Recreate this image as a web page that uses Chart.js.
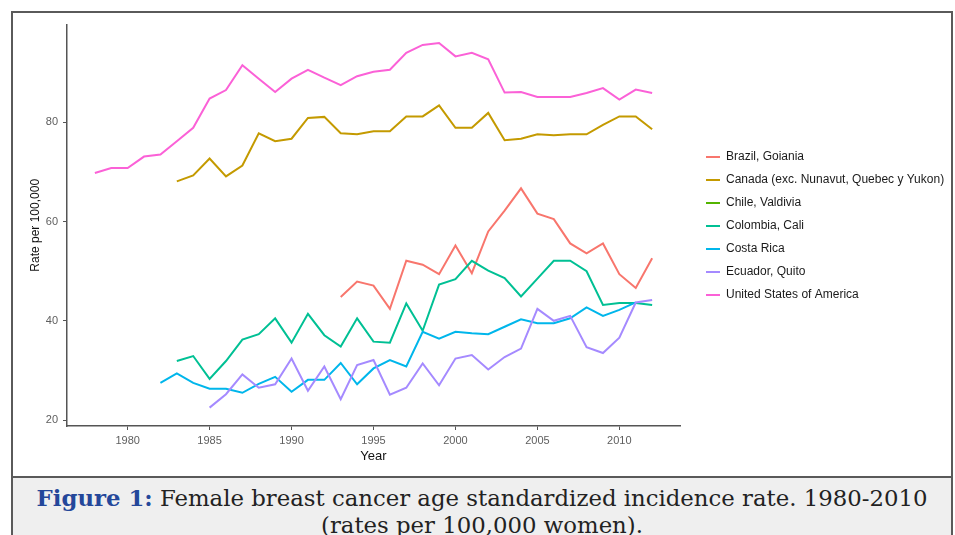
<!DOCTYPE html>
<html>
<head>
<meta charset="utf-8">
<script src="https://cdn.jsdelivr.net/npm/chart.js@4.4.0/dist/chart.umd.min.js"></script>
<style>
    html, body { margin: 0; padding: 0; background: #fff; }
    body { width: 955px; height: 535px; position: relative; overflow: hidden; }
    .frame { position: absolute; left: 11px; top: 11px; width: 938px; height: 530px;
             border: 2px solid #5a5a5a; border-bottom: none; }
    .plot { position: absolute; left: 0; top: 0; width: 938px; height: 463px; }
    .caption { position: absolute; left: 0; top: 463px; width: 938px; height: 70px;
               border-top: 2px solid #5a5a5a; background: #efefef; text-align: center;
               font-family: "DejaVu Serif", serif; font-size: 22.8px; line-height: 27px;
               color: #222; padding-top: 7px; white-space: nowrap; }
    .caption b { color: #24479a; }
</style>
</head>
<body>
<div class="frame">
    <div class="plot"><canvas id="rateChart" width="938" height="463"></canvas></div>
    <div class="caption"><b>Figure 1:</b> Female breast cancer age standardized incidence rate. 1980-2010<br>(rates per 100,000 women).</div>
</div>
<script>
// years 1978 .. 2012, null = no registry data that year
const years = [1978, 1979, 1980, 1981, 1982, 1983, 1984, 1985, 1986, 1987,
               1988, 1989, 1990, 1991, 1992, 1993, 1994, 1995, 1996, 1997,
               1998, 1999, 2000, 2001, 2002, 2003, 2004, 2005, 2006, 2007,
               2008, 2009, 2010, 2011, 2012];

const brazil = [null, null, null, null, null, null, null, null, null, null,
                null, null, null, null, null, 44.8, 47.9, 47.1, 42.4, 52.1,
                51.3, 49.4, 55.2, 49.6, 58.0, 62.2, 66.7, 61.6, 60.5, 55.6,
                53.6, 55.6, 49.4, 46.6, 52.6];
const canada = [null, null, null, null, null, 68.1, 69.3, 72.7, 69.1, 71.3,
                77.8, 76.2, 76.7, 80.9, 81.1, 77.8, 77.6, 78.2, 78.2, 81.2,
                81.2, 83.4, 78.9, 78.9, 81.9, 76.4, 76.7, 77.6, 77.4, 77.6,
                77.6, 79.5, 81.2, 81.2, 78.6];
const chile = years.map(() => null);
const colombia = [null, null, null, null, null, 31.9, 32.9, 28.3, 31.9, 36.2,
                  37.3, 40.5, 35.6, 41.4, 37.1, 34.8, 40.5, 35.8, 35.6, 43.5,
                  38.0, 47.3, 48.4, 52.1, 50.1, 48.6, 44.9, 48.5, 52.1, 52.1,
                  50.0, 43.2, 43.6, 43.6, 43.2];
const costaRica = [null, null, null, null, 27.5, 29.4, 27.5, 26.3, 26.3, 25.5,
                   27.3, 28.7, 25.7, 28.1, 28.1, 31.5, 27.2, 30.4, 32.1, 30.8,
                   37.8, 36.4, 37.8, 37.5, 37.3, 38.8, 40.3, 39.5, 39.5, 40.5,
                   42.7, 41.0, 42.2, 43.7, null];
const ecuador = [null, null, null, null, null, null, null, 22.5, 25.2, 29.2,
                 26.5, 27.2, 32.4, 25.9, 30.8, 24.2, 31.1, 32.1, 25.1, 26.5,
                 31.4, 27.0, 32.4, 33.1, 30.2, 32.7, 34.4, 42.4, 40.0, 41.0,
                 34.7, 33.5, 36.6, 43.7, 44.2];
const usa = [69.8, 70.8, 70.8, 73.1, 73.5, 76.2, 78.9, 84.8, 86.5, 91.5,
             88.8, 86.1, 88.8, 90.6, 89.0, 87.5, 89.3, 90.2, 90.6, 94.0,
             95.6, 96.0, 93.3, 94.0, 92.7, 86.0, 86.1, 85.1, 85.1, 85.1,
             85.9, 86.9, 84.6, 86.6, 85.9];

const seriesNames = ['Brazil, Goiania', 'Canada (exc. Nunavut, Quebec y Yukon)', 'Chile, Valdivia',
                     'Colombia, Cali', 'Costa Rica', 'Ecuador, Quito', 'United States of America'];
const seriesValues = [brazil, canada, chile, colombia, costaRica, ecuador, usa];
const seriesColors = ['#F8766D', '#C49A00', '#53B400', '#00C094', '#00B6EB', '#A58AFF', '#FB61D7'];

const xTicks = [1980, 1985, 1990, 1995, 2000, 2005, 2010];
const yTicks = [20, 40, 60, 80];

const axisColor = '#555';
const sans = '"Liberation Sans", Arial, sans-serif';
const tickFont = { family: sans, size: 11 };

// legend drawn beside the plot (built-in one is squeezed to half the canvas)
const sideLegend = {
    id: 'sideLegend',
    afterDraw(chart) {
        const { ctx, chartArea } = chart;
        const rowGap = 23;
        const sets = chart.data.datasets;
        const midY = (chartArea.top + chartArea.bottom) / 2 + 1;
        const x0 = chartArea.right + 26;
        ctx.save();
        ctx.font = '12px ' + sans;
        ctx.textBaseline = 'middle';
        ctx.fillStyle = '#1a1a1a';
        sets.forEach((ds, i) => {
            const y = Math.round(midY + (i - (sets.length - 1) / 2) * rowGap);
            ctx.strokeStyle = ds.borderColor;
            ctx.lineWidth = 2;
            ctx.beginPath();
            ctx.moveTo(x0, y);
            ctx.lineTo(x0 + 14, y);
            ctx.stroke();
            ctx.fillText(ds.label, x0 + 20, y);
        });
        ctx.restore();
    }
};

new Chart(document.getElementById('rateChart'), {
    type: 'line',
    data: {
        labels: years,
        datasets: seriesNames.map((name, i) => ({
            label: name,
            data: seriesValues[i],
            borderColor: seriesColors[i],
            backgroundColor: seriesColors[i],
            borderWidth: 2,
            pointRadius: 0,
            tension: 0,
            spanGaps: false,
            order: seriesNames.length - i   // later series drawn on top
        }))
    },
    plugins: [sideLegend],
    options: {
        responsive: false,
        animation: false,
        devicePixelRatio: 1,
        layout: { padding: { left: 0, top: 11, right: 271, bottom: 0 } },
        plugins: {
            tooltip: { enabled: false },
            legend: { display: false }
        },
        scales: {
            x: {
                type: 'linear',
                min: 1976.3,
                max: 2013.7,
                afterBuildTicks: s => { s.ticks = xTicks.map(v => ({ value: v })); },
                afterFit: s => { s.height = 50; },
                border: { display: true, color: axisColor, width: 1.5 },
                grid: { drawOnChartArea: false, drawTicks: true, tickLength: 4, color: axisColor },
                ticks: { color: '#5e5e5e', font: tickFont, padding: 4, maxRotation: 0,
                         callback: v => String(v) },
                title: { display: true, text: 'Year', color: '#111',
                         font: { family: sans, size: 13 },
                         padding: { top: 0, bottom: 12 } }
            },
            y: {
                min: 18.8,
                max: 99.7,
                afterBuildTicks: s => { s.ticks = yTicks.map(v => ({ value: v })); },
                afterFit: s => { s.width = 54; },
                border: { display: true, color: axisColor, width: 1.5 },
                grid: { drawOnChartArea: false, drawTicks: true, tickLength: 4, color: axisColor },
                ticks: { color: '#5e5e5e', font: tickFont, padding: 5 },
                title: { display: true, text: 'Rate per 100,000', color: '#111',
                         font: { family: sans, size: 12 },
                         padding: { top: 15, bottom: 0 } }
            }
        }
    }
});
</script>
</body>
</html>
